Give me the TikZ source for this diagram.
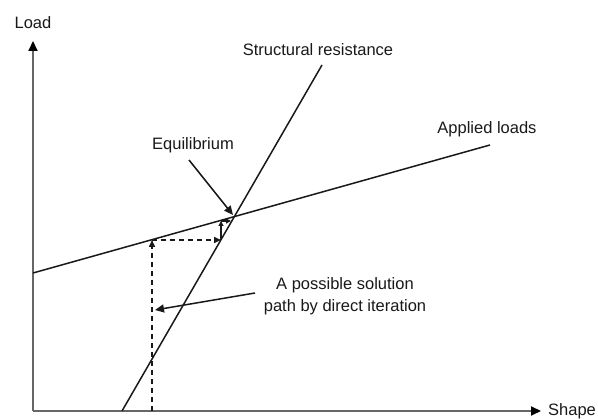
\documentclass[tikz,border=0pt]{standalone}
\usepackage{fontspec}
\setmainfont{Liberation Sans}
\usetikzlibrary{arrows.meta}
\begin{document}
\begin{tikzpicture}[x=1pt,y=-1pt,
  lbl/.style={inner sep=0pt,font=\fontsize{16.5}{22}\selectfont,text=black!90},
  axisline/.style={draw=black!60,line width=2pt,-{Triangle[length=10pt,width=9pt,color=black]}},
  curve/.style={draw=black!90,line width=1.5pt},
  ptr/.style={draw=black!90,line width=1.5pt,-{Triangle[length=9pt,width=8pt]}},
  iter/.style={draw=black!90,line width=1.5pt,dash pattern=on 5pt off 4pt,-{Triangle[length=7pt,width=6pt]}},
  itersmall/.style={draw=black!90,line width=1.3pt,-{Triangle[length=5pt,width=5pt]}}]
\useasboundingbox[fill=white] (0,0) rectangle (598,419);
% axes
\coordinate (O) at (33,411);
\coordinate (Ytop) at (33,41);
\coordinate (Xend) at (541,411);
\draw[axisline] (O) -- (Ytop);
\draw[axisline] (O) -- (Xend);
\node[lbl] (load) at (33,23) {Load};
\node[lbl,anchor=west] (shape) at (548,411) {Shape};
% lines
\coordinate (A1) at (33,273);
\coordinate (A2) at (490,145);
\coordinate (S1) at (122,411);
\coordinate (S2) at (322,65);
\draw[curve] (A1) -- (A2);
\draw[curve] (S1) -- (S2);
\node[lbl] (sr) at (318,50) {Structural resistance};
\node[lbl] (al) at (487,129) {Applied loads};
% iteration path
\coordinate (P0) at (152,411);
\coordinate (P1) at (152,240);
\coordinate (P2) at (221,240);
\coordinate (P3) at (221,221);
\coordinate (P4) at (231,221);
\draw[iter] (P0) -- (P1);
\draw[iter] (P1) -- (P2);
\draw[itersmall] (P2) -- (P3);
\draw[itersmall] (P3) -- (P4);
% equilibrium
\node[lbl] (eq) at (193,145) {Equilibrium};
\coordinate (E1) at (189,160);
\coordinate (E2) at (233,215);
\draw[ptr] (E1) -- (E2);
% solution path label
\node[lbl,align=center] (sol) at (345,296) {A possible solution\\path by direct iteration};
\coordinate (T1) at (255,293);
\coordinate (T2) at (155,310);
\draw[ptr] (T1) -- (T2);
\end{tikzpicture}
\end{document}
